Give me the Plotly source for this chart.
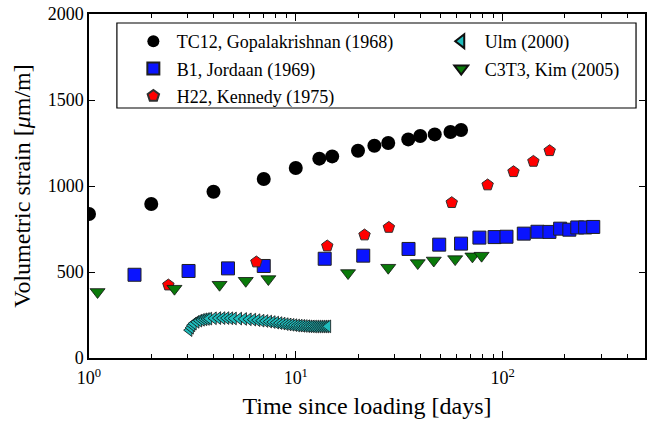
import plotly.graph_objects as go

# ---- data ----
tc12_t = [1.0, 2.0, 4.0, 7.0, 10.0, 13.0, 15.0, 20.0, 24.0, 28.0, 35.0, 40.0, 47.0, 56.0, 63.0]
tc12_v = [837, 895, 967, 1041, 1105, 1159, 1172, 1205, 1234, 1250, 1271, 1291, 1300, 1314, 1326]

b1_t = [1.66, 3.03, 4.7, 7.0, 13.8, 21.2, 35.1, 49.4, 63.0, 77.3, 91.5, 104.5, 126.7, 147.5, 168.6, 189.9, 210.4, 229.8, 251.0, 274.6]
b1_v = [484, 506, 521, 535, 577, 595, 634, 659, 665, 700, 703, 705, 723, 734, 733, 752, 746, 759, 759, 762]

h22_t = [2.42, 6.45, 14.2, 21.5, 28.2, 56.8, 84.7, 113.0, 141.0, 169.0]
h22_v = [424, 558, 651, 715, 759, 903, 1006, 1083, 1143, 1205]

ulm_t = [3.05, 3.1, 3.15, 3.2, 3.3, 3.4, 3.5, 3.6, 3.7, 3.8, 4.0, 4.2, 4.4, 4.6, 4.8, 5.0,
         5.3, 5.6, 5.9, 6.2, 6.5, 6.8, 7.1, 7.4, 7.7, 8.0, 8.3, 8.6, 8.9, 9.2, 9.5, 9.8,
         10.1, 10.4, 10.7, 11.0, 11.3, 11.6, 11.9, 12.2, 12.5, 12.8, 13.1, 13.4, 13.7, 14.0, 14.3]
ulm_v = [162, 176, 190, 200, 210, 217, 222, 225, 227, 229, 231, 232, 232, 232, 231, 230,
         229, 227, 225, 223, 220, 217, 215, 212, 209, 206, 203, 200, 197, 195, 193, 191,
         189, 188, 187, 186, 185, 184, 184, 183, 183, 183, 183, 183, 183, 183, 184]

c3t3_t = [1.1, 2.59, 4.28, 5.73, 7.37, 17.9, 28.0, 38.9, 46.5, 59.0, 71.5, 79.2]
c3t3_v = [384, 403, 426, 449, 459, 494, 525, 552, 567, 575, 591, 595]

x_tickvals = [1, 10, 100]
x_ticktext = ["10<sup>0</sup>", "10<sup>1</sup>", "10<sup>2</sup>"]

FONT = "Times New Roman, Liberation Serif, serif"

fig = go.Figure()

def add(x, y, name, symbol, size, color, lcolor, lw, legend, group):
    fig.add_trace(go.Scatter(
        x=x, y=y, mode="markers", name=name, legend=legend, legendgroup=group,
        marker=dict(symbol=symbol, size=size, color=color,
                    line=dict(color=lcolor, width=lw))))

add(tc12_t, tc12_v, "TC12, Gopalakrishnan (1968)", "circle", 14, "black", "black", 0, "legend", "a")
add(b1_t, b1_v, "B1, Jordaan (1969)", "square", 13, "#0a14ff", "#202020", 1, "legend", "b")
add(h22_t, h22_v, "H22, Kennedy (1975)", "pentagon", 12, "#ff0000", "#303030", 1, "legend", "c")
add(ulm_t, ulm_v, "Ulm (2000)", "triangle-left", 11, "#1fbcbc", "#101010", 0.8, "legend2", "d")
add(c3t3_t, c3t3_v, "C3T3, Kim (2005)", "triangle-down", 13, "#0a7a0a", "#101010", 0.8, "legend2", "e")

L, R, T, B = 89, 0, 14, 68
W, H = 647, 426
pw = W - L - R
ph = H - T - B

def px(xp):
    return (xp - L) / pw

def py(yp):
    return (H - B - yp) / ph

legend_common = dict(
    font=dict(family=FONT, size=18, color="black"),
    bgcolor="rgba(0,0,0,0)", borderwidth=0,
    xanchor="left", yanchor="top", tracegroupgap=1,
    traceorder="grouped", itemsizing="constant", itemwidth=37)

fig.update_layout(
    width=W, height=H,
    margin=dict(l=L, r=R, t=T, b=B),
    paper_bgcolor="white", plot_bgcolor="white",
    font=dict(family=FONT, size=18, color="black"),
    legend=dict(x=px(130), y=py(23), **legend_common),
    legend2=dict(x=px(439), y=py(23), **legend_common),
    shapes=[dict(type="rect", xref="paper", yref="paper",
                 x0=px(117), x1=px(638), y0=py(108), y1=py(23),
                 line=dict(color="black", width=1.2), fillcolor="rgba(0,0,0,0)")],
    xaxis=dict(
        type="log", range=[0, 2.689],
        showline=True, linecolor="black", linewidth=1.5, mirror="ticks",
        ticks="inside", ticklen=7, tickwidth=1, tickcolor="black",
        tickvals=x_tickvals, ticktext=x_ticktext, ticklabelstandoff=3,
        showgrid=False, zeroline=False,
        minor=dict(ticks="inside", ticklen=4, tickcolor="black", dtick="D1", showgrid=False),
        tickfont=dict(family=FONT, size=18),
        title=dict(text="Time since loading [days]", font=dict(family=FONT, size=24), standoff=10),
    ),
    yaxis=dict(
        range=[0, 2000], dtick=500,
        showline=True, linecolor="black", linewidth=1.5, mirror="ticks",
        ticks="inside", ticklen=6, tickwidth=1, tickcolor="black",
        showgrid=False, zeroline=False,
        tickfont=dict(family=FONT, size=18),
        title=dict(text="Volumetric strain [<i>μ</i>m/m]", font=dict(family=FONT, size=24), standoff=10),
    ),
)

fig.write_html("out.html")
